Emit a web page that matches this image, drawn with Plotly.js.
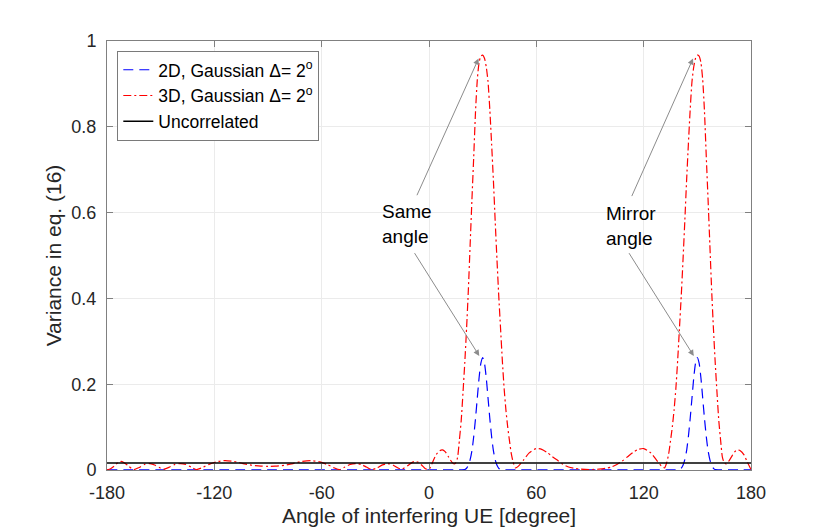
<!DOCTYPE html>
<html>
<head>
<meta charset="utf-8">
<script src="https://cdn.plot.ly/plotly-3.0.1.min.js"></script>
<style>
  html, body { margin: 0; padding: 0; background: #fff; }
  #chart { width: 830px; height: 529px; }
</style>
</head>
<body>
<div id="chart"></div>
<script>
// angles in degrees
var angle3D = [-180, -178, -176, -174, -172, -170, -168, -165, -162, -159, -156, -153, -150, -148,
  -145, -142, -139, -136, -133, -130, -127, -123, -119, -114, -109, -104, -99, -94, -90, -86, -81,
  -76, -71, -66, -61, -57, -53, -50, -47, -44, -41, -38, -35, -32, -29, -26, -23, -20, -17, -15,
  -12, -10, -8, -6, -4, -2, 0, 2, 4, 6, 7.5, 9, 11, 13, 14, 15, 16, 17, 18, 19, 20, 21, 22, 23,
  24, 25, 26, 27, 28, 29, 30, 31, 32, 33, 34, 35, 36, 37, 38, 39, 40, 41, 42, 43, 44, 45, 46, 47,
  48.3, 50, 53, 56, 60, 63, 66, 69, 72, 75, 78, 81, 85, 90, 95, 99, 102, 105, 108, 111, 114, 117,
  120, 124, 127, 130, 131.7, 133, 134, 135, 136, 137, 138, 139, 140, 141, 142, 143, 144, 145, 146,
  147, 148, 149, 150, 151, 152, 153, 154, 155, 156, 157, 158, 159, 160, 161, 162, 163, 164, 165,
  166, 167, 169, 171, 172.5, 174, 176, 178, 180];
var var3D = [0.000, 0.003, 0.009, 0.017, 0.020, 0.016, 0.009, 0.001, 0.006, 0.013, 0.015, 0.011,
  0.004, 0.002, 0.007, 0.013, 0.015, 0.013, 0.007, 0.001, 0.005, 0.013, 0.019, 0.022, 0.020, 0.015,
  0.011, 0.009, 0.0085, 0.009, 0.011, 0.015, 0.020, 0.022, 0.019, 0.013, 0.005, 0.001, 0.007, 0.013,
  0.015, 0.013, 0.007, 0.001, 0.005, 0.012, 0.015, 0.011, 0.004, 0.002, 0.010, 0.016, 0.020, 0.018,
  0.011, 0.003, 0.001, 0.018, 0.036, 0.045, 0.047, 0.043, 0.030, 0.017, 0.014, 0.017, 0.030, 0.070,
  0.115, 0.180, 0.250, 0.330, 0.420, 0.525, 0.630, 0.730, 0.835, 0.910, 0.950, 0.965, 0.967, 0.960,
  0.940, 0.905, 0.840, 0.760, 0.675, 0.580, 0.490, 0.405, 0.330, 0.255, 0.190, 0.140, 0.100, 0.068,
  0.038, 0.019, 0.005, 0.009, 0.024, 0.040, 0.050, 0.048, 0.041, 0.031, 0.022, 0.013, 0.007, 0.004,
  0.002, 0.001, 0.002, 0.004, 0.007, 0.013, 0.021, 0.031, 0.041, 0.048, 0.050, 0.040, 0.024, 0.009,
  0.005, 0.019, 0.038, 0.068, 0.100, 0.140, 0.190, 0.255, 0.330, 0.405, 0.490, 0.580, 0.675, 0.760,
  0.840, 0.905, 0.940, 0.960, 0.967, 0.965, 0.950, 0.910, 0.835, 0.730, 0.630, 0.525, 0.420, 0.330,
  0.250, 0.180, 0.115, 0.070, 0.030, 0.017, 0.014, 0.017, 0.030, 0.043, 0.047, 0.045, 0.036, 0.018,
  0.001];

var angle2D = [-180, -90, 0, 18, 20, 21, 22, 23, 24, 25, 26, 27, 28, 29, 30, 31, 32, 33, 34, 35,
  36, 37, 38, 39, 40, 42, 90, 138, 140, 141, 142, 143, 144, 145, 146, 147, 148, 149, 150, 151, 152,
  153, 154, 155, 156, 157, 158, 159, 160, 162, 180];
var var2D = [0.0005, 0.0005, 0.0005, 0.0005, 0.001, 0.004, 0.011, 0.024, 0.045, 0.078, 0.120,
  0.168, 0.215, 0.249, 0.262, 0.249, 0.215, 0.168, 0.120, 0.078, 0.045, 0.024, 0.011, 0.004, 0.001,
  0.0005, 0.0005, 0.0005, 0.001, 0.004, 0.011, 0.024, 0.045, 0.078, 0.120, 0.168, 0.215, 0.249,
  0.262, 0.249, 0.215, 0.168, 0.120, 0.078, 0.045, 0.024, 0.011, 0.004, 0.001, 0.0005, 0.0005];

var angleUncorr = [-180, 180];
var varUncorr = [0.0163, 0.0163];

var xTicks = [-180, -120, -60, 0, 60, 120, 180];
var xTickText = ['-180', '-120', '-60', '0', '60', '120', '180'];
var yTicks = [0, 0.2, 0.4, 0.6, 0.8, 1];
var yTickText = ['0', '0.2', '0.4', '0.6', '0.8', '1'];

var traces = [
  {
    x: angle2D, y: var2D, type: 'scatter', mode: 'lines',
    name: '2D, Gaussian \u0394= 2<sup>o</sup>',
    line: {color: '#0000ff', width: 1.2, dash: '10px,6px', shape: 'spline', smoothing: 0.6}
  },
  {
    x: angle3D, y: var3D, type: 'scatter', mode: 'lines',
    name: '3D, Gaussian \u0394= 2<sup>o</sup>',
    line: {color: '#ff0000', width: 1.2, dash: '8px,3px,2px,3px', shape: 'spline', smoothing: 0.6}
  },
  {
    x: angleUncorr, y: varUncorr, type: 'scatter', mode: 'lines',
    name: 'Uncorrelated',
    line: {color: '#000000', width: 1.3}
  }
];

var arrowStyle = {
  text: '', showarrow: true, arrowhead: 2, arrowsize: 1.2, arrowwidth: 1,
  arrowcolor: '#8c8c8c', xref: 'x', yref: 'y', axref: 'x', ayref: 'y', standoff: 0
};
function arrow(x0, y0, x1, y1) {
  return Object.assign({}, arrowStyle, {ax: x0, ay: y0, x: x1, y: y1});
}

var labelFont = {family: 'Liberation Sans, Arial, sans-serif', size: 19, color: '#000'};

var layout = {
  width: 830, height: 529,
  margin: {l: 107, r: 79, t: 41, b: 59},
  paper_bgcolor: '#fff', plot_bgcolor: '#fff',
  font: {family: 'Liberation Sans, Arial, sans-serif', color: '#262626'},
  showlegend: true,
  legend: {
    x: 0.016, y: 0.977, xanchor: 'left', yanchor: 'top',
    bgcolor: '#fff', bordercolor: '#7a7a7a', borderwidth: 1,
    font: {size: 17.5, color: '#000'}
  },
  xaxis: {
    range: [-180, 180], tickvals: xTicks, ticktext: xTickText, ticks: 'inside', ticklen: 6,
    tickcolor: '#808080', showline: true, linecolor: '#808080', linewidth: 1, mirror: 'ticks',
    showgrid: true, gridcolor: '#ebebeb', zeroline: false,
    tickfont: {size: 18, color: '#262626'}, ticklabelstandoff: 6,
    title: {text: 'Angle of interfering UE [degree]', font: {size: 21, color: '#262626'}, standoff: 6}
  },
  yaxis: {
    range: [0, 1], tickvals: yTicks, ticktext: yTickText, ticks: 'inside', ticklen: 6,
    tickcolor: '#808080', showline: true, linecolor: '#808080', linewidth: 1, mirror: 'ticks',
    showgrid: true, gridcolor: '#ebebeb', zeroline: false,
    tickfont: {size: 18, color: '#262626'}, ticklabelstandoff: 6,
    title: {text: 'Variance in eq. (16)', font: {size: 21, color: '#262626'}, standoff: 4}
  },
  annotations: [
    arrow(-7.1, 0.637, 27.7, 0.959),
    arrow(-8.6, 0.509, 28.1, 0.266),
    arrow(113.0, 0.635, 147.6, 0.959),
    arrow(111.3, 0.509, 148.0, 0.266),
    {text: 'Same<br>angle', x: -27.3, y: 0.573, xref: 'x', yref: 'y', xanchor: 'left',
     yanchor: 'middle', align: 'left', showarrow: false, font: labelFont},
    {text: 'Mirror<br>angle', x: 98.0, y: 0.569, xref: 'x', yref: 'y', xanchor: 'left',
     yanchor: 'middle', align: 'left', showarrow: false, font: labelFont}
  ]
};

Plotly.newPlot('chart', traces, layout, {displayModeBar: false, responsive: false});
</script>
</body>
</html>
